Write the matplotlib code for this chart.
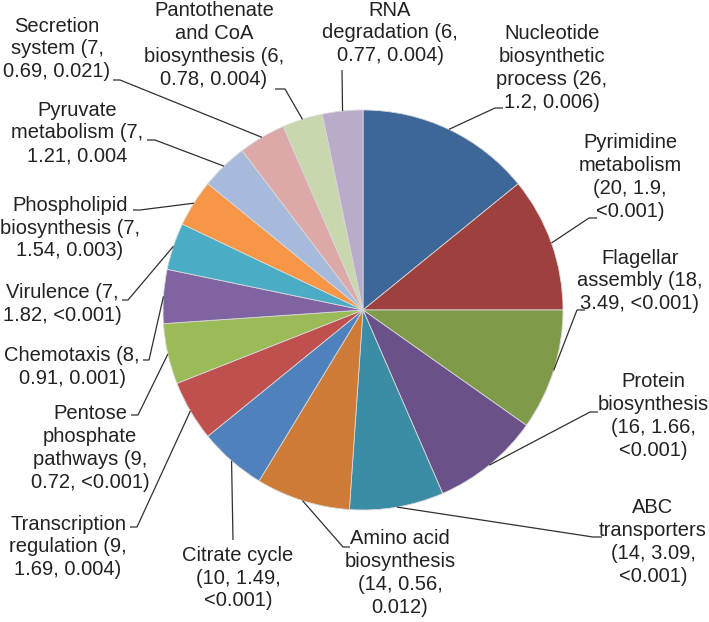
"""
Pie chart of enriched functional categories (count, fold, p-value).
"""

import numpy as np
import matplotlib
matplotlib.use("Agg")
import matplotlib.pyplot as plt

labels = [
    "Nucleotide\nbiosynthetic\nprocess (26,\n1.2, 0.006)",
    "Pyrimidine\nmetabolism\n(20, 1.9,\n<0.001)",
    "Flagellar\nassembly (18,\n3.49, <0.001)",
    "Protein\nbiosynthesis\n(16, 1.66,\n<0.001)",
    "ABC\ntransporters\n(14, 3.09,\n<0.001)",
    "Amino acid\nbiosynthesis\n(14, 0.56,\n0.012)",
    "Citrate cycle\n(10, 1.49,\n<0.001)",
    "Transcription\nregulation (9,\n1.69, 0.004)",
    "Pentose\nphosphate\npathways (9,\n0.72, <0.001)",
    "Chemotaxis (8,\n0.91, 0.001)",
    "Virulence (7,\n1.82, <0.001)",
    "Phospholipid\nbiosynthesis (7,\n1.54, 0.003)",
    "Pyruvate\nmetabolism (7,\n1.21, 0.004",
    "Secretion\nsystem (7,\n0.69, 0.021)",
    "Pantothenate\nand CoA\nbiosynthesis (6,\n0.78, 0.004)",
    "RNA\ndegradation (6,\n0.77, 0.004)",
]
counts = [26, 20, 18, 16, 14, 14, 10, 9, 9, 8, 7, 7, 7, 7, 6, 6]
colors = [
    "#3d6699", "#9e403d", "#7f9b49", "#6a5189", "#3b8ca5", "#cd7b36",
    "#4f81bd", "#c0504d", "#9bbb59", "#8064a2", "#4bacc6", "#f79646",
    "#a8badb", "#dca9a8", "#c8d7ae", "#b8acca",
]

# label layout in image pixels: text centre, end of leader, elbow of leader
text_pos = [
    (552, 68), (630, 177), (640, 281), (653, 416), (653, 542), (400, 573),
    (238, 578), (68, 547), (90, 448), (72, 367), (62, 304), (70, 228),
    (77, 133), (57, 49), (214, 45), (390, 33),
]
anchor = [
    (503, 108), (597, 218), (585, 310), (598, 412), (602, 537), (350, 547),
    (233, 540), (130, 527), (131, 415), (143, 360), (122, 300), (133, 210),
    (147, 140), (113, 80), (275, 89), (342, 70),
]
elbow = [
    (495, 108), (589, 218), (577, 310), (590, 412), (593, 537), (343, 547),
    (233, 540), (137, 527), (138, 415), (149, 360), (128, 300), (140, 210),
    (155, 140), (120, 80), (285, 89), (342, 70),
]

W, H = 709, 622
CX, CY, R = 363, 310, 200


def px(x, y):
    return (x - CX) / R, (CY - y) / R


fig = plt.figure(figsize=(W / 100, H / 100), dpi=100)
ax = fig.add_axes([0, 0, 1, 1])
wedges, _ = ax.pie(
    counts,
    colors=colors,
    startangle=90,
    counterclock=False,
    wedgeprops=dict(edgecolor="#d8d8d8", linewidth=0.6),
)
ax.set_xlim(px(0, 0)[0], px(W, 0)[0])
ax.set_ylim(px(0, H)[1], px(0, 0)[1])
ax.set_aspect("equal")
ax.axis("off")

for w, lab, tp, an, el in zip(wedges, labels, text_pos, anchor, elbow):
    mid = np.deg2rad((w.theta1 + w.theta2) / 2)
    edge = (np.cos(mid), np.sin(mid))
    a = px(*an)
    e = px(*el)
    ax.plot([edge[0], e[0], a[0]], [edge[1], e[1], a[1]],
            color="#303030", lw=0.9, solid_capstyle="butt")
    ax.text(*px(*tp), lab, ha="center", va="center", multialignment="center",
            fontsize=14.5, family="Liberation Sans", color="#222222",
            linespacing=1.26)

plt.savefig("out.png", dpi=100)
